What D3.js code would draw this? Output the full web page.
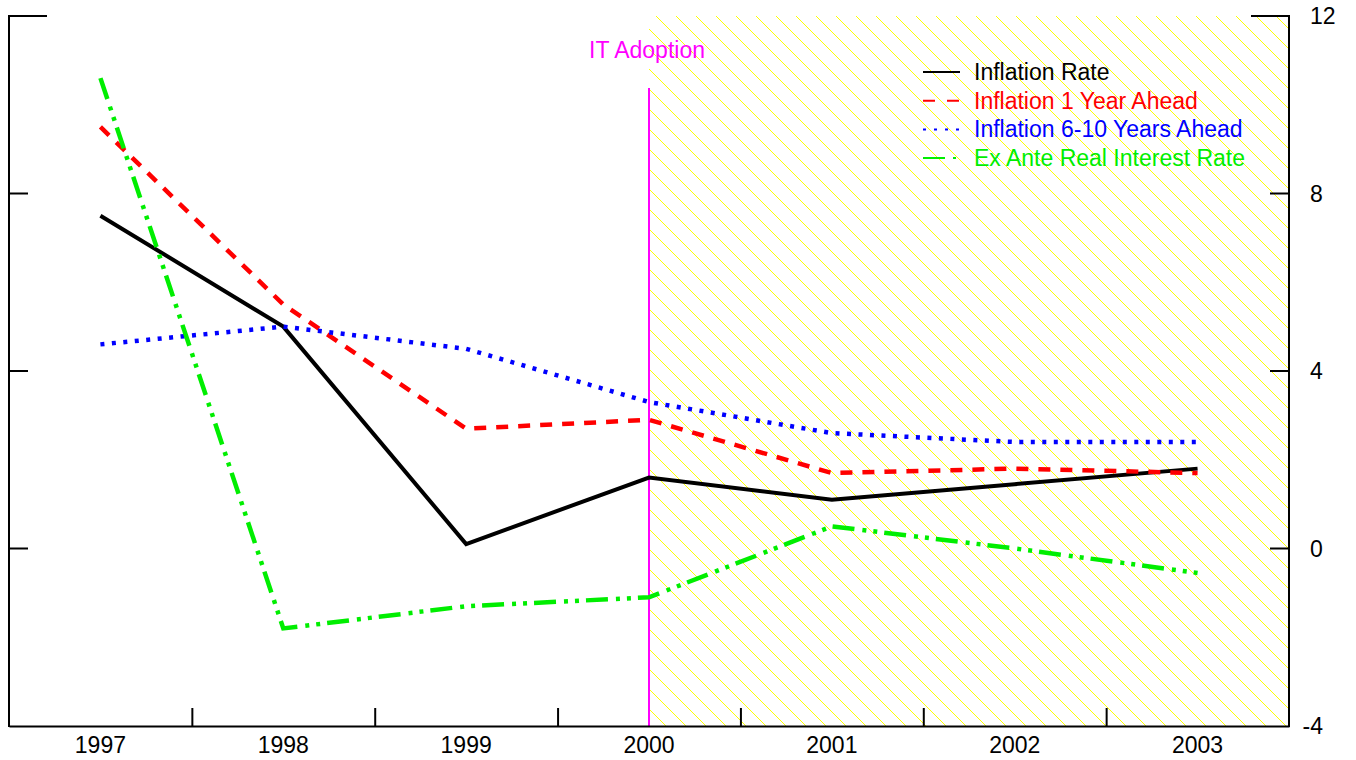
<!DOCTYPE html>
<html>
<head>
<meta charset="utf-8">
<script src="https://cdn.jsdelivr.net/npm/d3@7/dist/d3.min.js"></script>
<style>
  html, body { margin: 0; padding: 0; background: #fff; }
  svg { display: block; font-family: "Liberation Sans", Arial, sans-serif; }
</style>
</head>
<body>
<svg id="chart" width="1356" height="760"></svg>
<script>
// Series, one value per year
const years = [1997, 1998, 1999, 2000, 2001, 2002, 2003];
const inflationRate = [7.5, 5.0, 0.1, 1.6, 1.1, 1.45, 1.8];
const inflation1Year = [9.5, 5.5, 2.7, 2.9, 1.7, 1.8, 1.7];
const inflation6to10 = [4.6, 5.0, 4.5, 3.3, 2.6, 2.4, 2.4];
const realInterest = [10.6, -1.8, -1.3, -1.1, 0.5, 0.0, -0.55];
const yTicks = [-4, 0, 4, 8, 12];
const adoptionYear = 2000;
const adoptionLabel = "IT Adoption";

const seriesList = [
  { name: "Inflation Rate", values: inflationRate, color: "#000000", width: 4, dash: null, legendDash: null },
  { name: "Inflation 1 Year Ahead", values: inflation1Year, color: "#ff0000", width: 4.5, dash: "12,10", legendDash: "12,12" },
  { name: "Inflation 6-10 Years Ahead", values: inflation6to10, color: "#0000ff", width: 4.5, dash: "4,7.5", legendDash: "3,8" },
  { name: "Ex Ante Real Interest Rate", values: realInterest, color: "#00ee00", width: 4.5, dash: "22,8,4,7,4,7", legendDash: "22,8,3,10" }
];

const fontSize = 23;
const svg = d3.select("#chart");
const plotLeft = 9, plotRight = 1289, plotTop = 16, plotBottom = 726;

const x = d3.scaleLinear().domain([1996.5, 2003.5]).range([plotLeft, plotRight]);
const y = d3.scaleLinear().domain([-4, 12]).range([plotBottom, plotTop]);

// Hatched post-adoption region
const defs = svg.append("defs");
const pat = defs.append("pattern")
  .attr("id", "hatch")
  .attr("patternUnits", "userSpaceOnUse")
  .attr("width", 20).attr("height", 20);
pat.append("path")
  .attr("d", "M-5,-5L25,25M-5,15L5,25M15,-5L25,5")
  .attr("stroke", "#ffff00").attr("stroke-width", 1).attr("fill", "none");

svg.append("rect")
  .attr("x", x(adoptionYear)).attr("y", plotTop)
  .attr("width", plotRight - x(adoptionYear)).attr("height", plotBottom - plotTop)
  .attr("fill", "url(#hatch)");

// Adoption marker
svg.append("line")
  .attr("x1", x(adoptionYear)).attr("x2", x(adoptionYear))
  .attr("y1", 88).attr("y2", plotBottom)
  .attr("stroke", "#ff00ff").attr("stroke-width", 2);
svg.append("text")
  .attr("x", x(adoptionYear) - 2).attr("y", 58)
  .attr("text-anchor", "middle")
  .attr("font-size", fontSize).attr("fill", "#ff00ff")
  .text(adoptionLabel);

// Series lines
const line = d3.line()
  .x((d, i) => x(years[i]))
  .y(d => y(d));

seriesList.forEach(s => {
  svg.append("path")
    .datum(s.values)
    .attr("d", line)
    .attr("fill", "none")
    .attr("stroke", s.color)
    .attr("stroke-width", s.width)
    .attr("stroke-dasharray", s.dash)
    .attr("stroke-linejoin", "miter");
});

// Axes frame
const axisStroke = "#000";
svg.append("line").attr("x1", plotLeft).attr("x2", plotLeft).attr("y1", plotTop - 1).attr("y2", plotBottom + 1)
  .attr("stroke", axisStroke).attr("stroke-width", 2);
svg.append("line").attr("x1", plotRight).attr("x2", plotRight).attr("y1", plotTop - 1).attr("y2", plotBottom + 1)
  .attr("stroke", axisStroke).attr("stroke-width", 2);

// Bottom axis: ticks between years, labels at year centres
const xAxis = d3.axisBottom(x)
  .tickValues(years.slice(0, -1).map(v => v + 0.5))
  .tickSize(-18)
  .tickSizeOuter(0)
  .tickFormat("");
const gx = svg.append("g").attr("transform", `translate(0,${plotBottom})`).call(xAxis);
gx.select(".domain").attr("stroke-width", 2);
gx.selectAll(".tick line").attr("stroke-width", 2);

svg.append("g").selectAll("text")
  .data(years).join("text")
  .attr("x", d => x(d))
  .attr("y", 753)
  .attr("text-anchor", "middle")
  .attr("font-size", fontSize)
  .attr("fill", "#000")
  .text(d => d);

// Y ticks: inward on both sides, longer at the top
yTicks.filter(v => v > -4).forEach(v => {
  const len = v === 12 ? 38 : 19;
  svg.append("line").attr("x1", plotLeft).attr("x2", plotLeft + len)
    .attr("y1", y(v)).attr("y2", y(v)).attr("stroke", axisStroke).attr("stroke-width", 2);
  svg.append("line").attr("x1", plotRight - len).attr("x2", plotRight)
    .attr("y1", y(v)).attr("y2", y(v)).attr("stroke", axisStroke).attr("stroke-width", 2);
});

// Right-side tick labels
svg.append("g").selectAll("text")
  .data(yTicks).join("text")
  .attr("x", d => d < 0 ? 1323 : 1310)
  .attr("y", d => y(d) + 8)
  .attr("text-anchor", d => d < 0 ? "end" : "start")
  .attr("font-size", fontSize)
  .attr("fill", "#000")
  .text(d => d);

// Legend
const legend = svg.append("g");
seriesList.forEach((s, i) => {
  const ly = 72 + i * 28.7;
  legend.append("line")
    .attr("x1", 923).attr("x2", 960)
    .attr("y1", ly).attr("y2", ly)
    .attr("stroke", s.color)
    .attr("stroke-width", 2)
    .attr("stroke-dasharray", s.legendDash);
  legend.append("text")
    .attr("x", 974).attr("y", ly + 8)
    .attr("font-size", fontSize)
    .attr("fill", s.color)
    .text(s.name);
});
</script>
</body>
</html>
